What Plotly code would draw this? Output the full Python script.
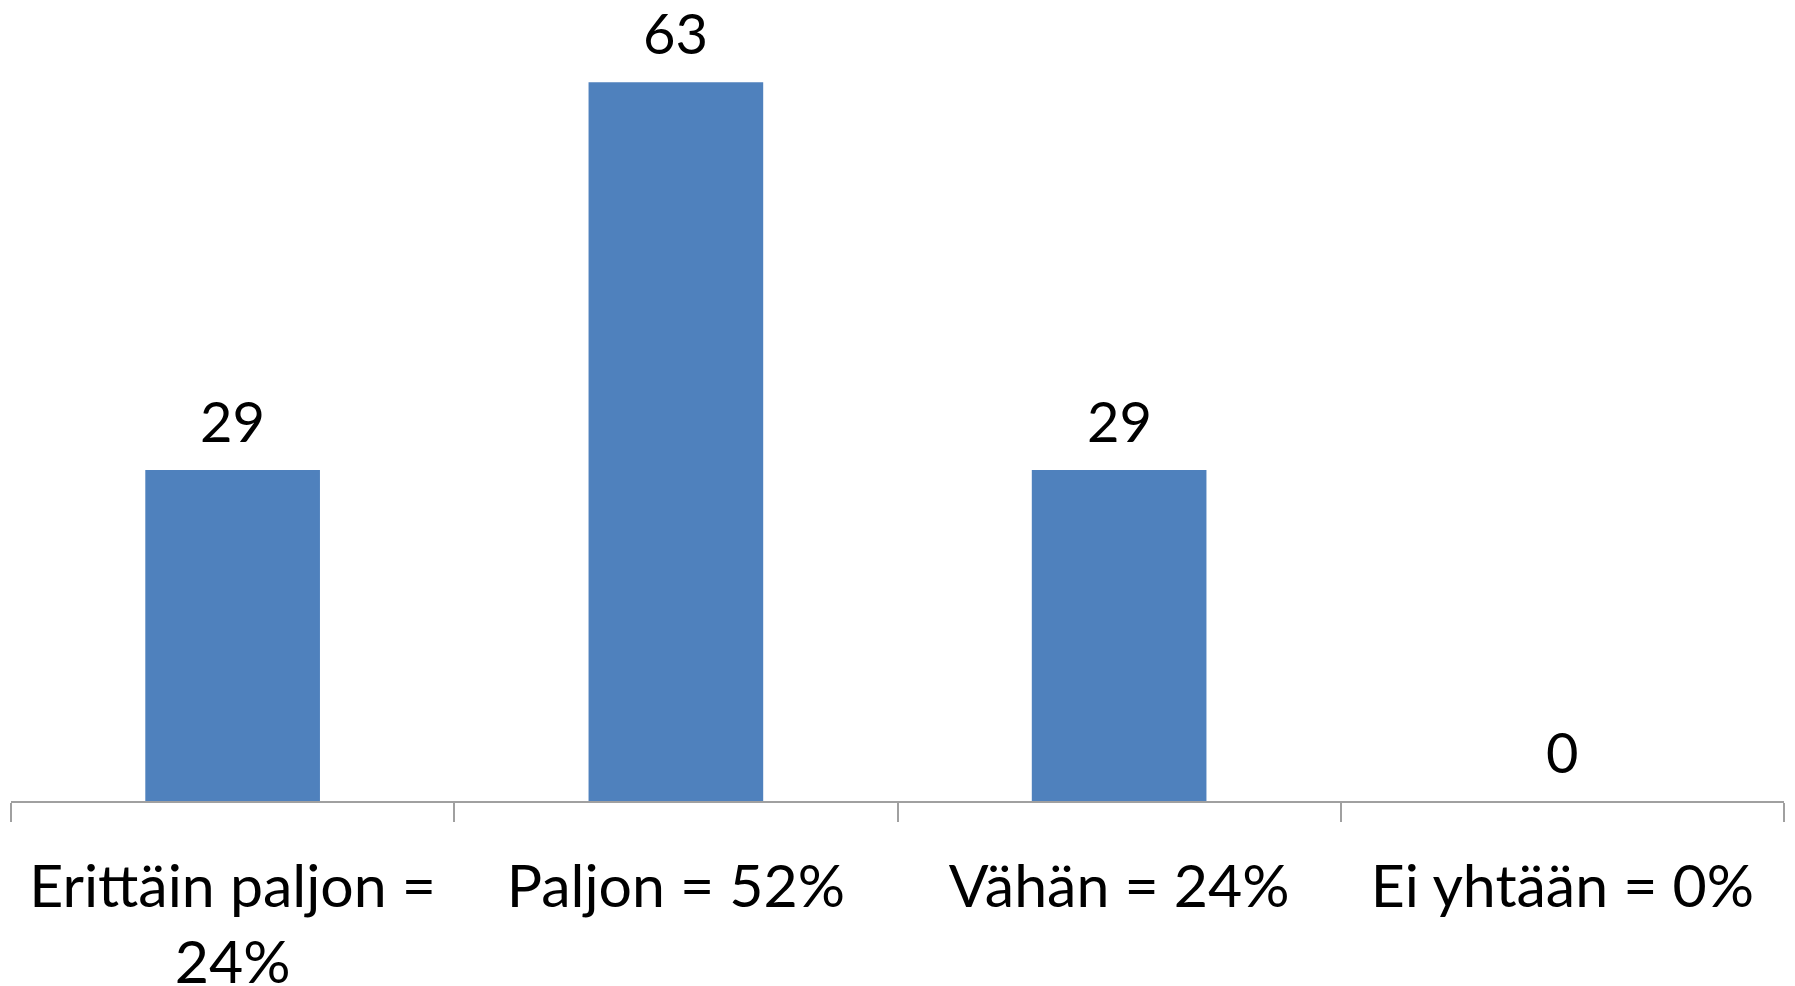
import plotly.graph_objects as go

categories = ["Erittäin paljon =<br>24%", "Paljon = 52%", "Vähän = 24%", "Ei yhtään = 0%"]
values = [29, 63, 29, 0]
value_labels = ["29", "63", "29", "0"]

FONT = "Lato, Calibri, Arial, sans-serif"

fig = go.Figure()
fig.add_trace(go.Bar(x=categories, y=values, marker=dict(color="#4F81BD", line=dict(width=0)),
                     hoverinfo="skip"))

for c, v, t in zip(categories, values, value_labels):
    fig.add_annotation(x=c, y=v, text=t, showarrow=False, yanchor="bottom", yshift=14,
                       font=dict(family=FONT, size=56, color="black"))

fig.update_layout(
    width=1787, height=978,
    margin=dict(l=3, r=11, t=0, b=185),
    paper_bgcolor="white", plot_bgcolor="white",
    bargap=0.606,
    showlegend=False,
    font=dict(family=FONT, size=56, color="black"),
)
fig.update_xaxes(
    automargin=False,
    showline=True, linecolor="#A0A0A0", linewidth=1.5,
    ticks="outside", ticklen=19, tickcolor="#A0A0A0", tickwidth=1.5,
    tickson="boundaries",
    ticklabelstandoff=33,
    tickfont=dict(family=FONT, size=59, color="black"),
    showgrid=False,
)
fig.update_yaxes(range=[0, 69.5], visible=False, showgrid=False, automargin=False)

fig.write_html("out.html")
